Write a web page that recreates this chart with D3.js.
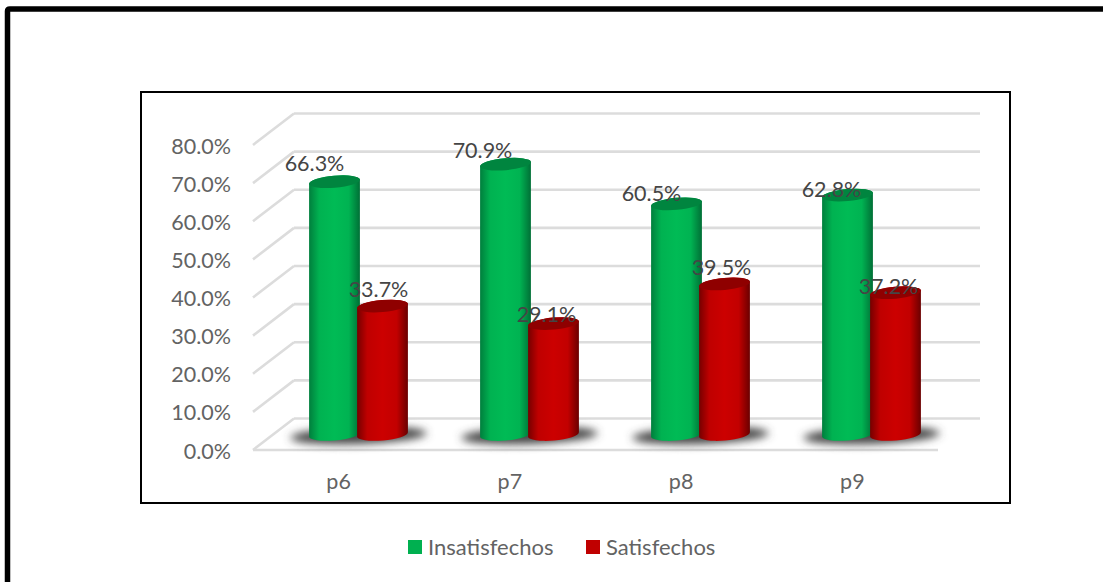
<!DOCTYPE html>
<html><head><meta charset="utf-8">
<script src="https://cdnjs.cloudflare.com/ajax/libs/d3/7.8.5/d3.min.js"></script>
<style>html,body{margin:0;padding:0;background:#fff}svg{display:block}text{font-family:Lato,"Open Sans",sans-serif}</style>
</head><body><div id="c"></div>
<script>
const categories = ["p6","p7","p8","p9"];
const seriesNames = ["Insatisfechos","Satisfechos"];
const insatisfechos = [66.3,70.9,60.5,62.8];
const satisfechos = [33.7,29.1,39.5,37.2];
const tickValues = [0,10,20,30,40,50,60,70,80];
const colors = ["#00b050","#c00000"];

// Hand-placed label offsets as in the original chart (layout only)
const labelNudge = [
  [[-20,-11],[-23,-6],[-25,-3],[-16,2]],
  [[-4,-9],[-7,-2],[-3,-9],[-7,1]]
];

const W=1103,H=582;
const svg=d3.select("#c").append("svg").attr("width",W).attr("height",H);
const defs=svg.append("defs");

function grad(id,edgeL,mid,edgeR){
  const g=defs.append("linearGradient").attr("id",id).attr("x1","0").attr("x2","1").attr("y1","0").attr("y2","0");
  [[0,edgeL],[.2,d3.interpolateRgb(edgeL,mid)(.85)],[.5,mid],[.78,d3.interpolateRgb(edgeR,mid)(.9)],[1,edgeR]]
    .forEach(s=>g.append("stop").attr("offset",s[0]).attr("stop-color",s[1]));
}
grad("g0","#007f3d","#00bb55","#006f36");
grad("g1","#760000","#cc0000","#6a0000");
defs.append("filter").attr("id","blur").attr("x","-30%").attr("y","-80%").attr("width","160%").attr("height","260%")
  .append("feGaussianBlur").attr("stdDeviation",4);

// frames
svg.append("path").attr("d",`M7.5 ${H} V11 Q7.5 9 10 9 H${W}`).attr("fill","none").attr("stroke","#000").attr("stroke-width",5.5);
svg.append("rect").attr("x",141).attr("y",92).attr("width",869).attr("height",411).attr("fill","#fff").attr("stroke","#000").attr("stroke-width",2);

// scales
const yFront=d3.scaleLinear().domain([0,80]).range([450,145]);
const yBack=d3.scaleLinear().domain([0,80]).range([418.5,113.5]);
const yBar=d3.scaleLinear().domain([0,80]).range([434.5,129.5]);
const xFront=d3.scaleBand().domain(categories).range([253,938]);
const xBar=d3.scaleBand().domain(categories).range([273,957]);
const sub=d3.scaleBand().domain([0,1]).range([-50,50]).padding(0);

// grid
const grid=svg.append("g").attr("stroke","#dcdcdc").attr("stroke-width",2.6).attr("fill","none");
grid.selectAll("line.b").data(tickValues).join("line")
  .attr("x1",294).attr("x2",980).attr("y1",d=>yBack(d)).attr("y2",d=>yBack(d));
grid.selectAll("line.d").data(tickValues).join("line")
  .attr("x1",253).attr("x2",294).attr("y1",d=>yFront(d)).attr("y2",d=>yBack(d));
grid.append("line").attr("x1",253).attr("x2",938).attr("y1",yFront(0)).attr("y2",yFront(0));

// y tick labels
svg.append("g").selectAll("text").data(tickValues).join("text")
  .attr("x",231).attr("y",d=>yFront(d)+8.5).attr("text-anchor","end")
  .attr("font-size",21.5).attr("fill","#636363").text(d=>d3.format(".1f")(d)+"%");
// x labels
svg.append("g").selectAll("text").data(categories).join("text")
  .attr("x",d=>xFront(d)+xFront.bandwidth()/2).attr("y",489).attr("text-anchor","middle")
  .attr("font-size",21.5).attr("fill","#636363").text(d=>d);

// shadows
svg.append("g").selectAll("ellipse").data(categories).join("ellipse")
  .attr("rx",68).attr("ry",8.5)
  .attr("transform",d=>`translate(${xBar(d)+xBar.bandwidth()/2},435.5) rotate(-2)`)
  .attr("fill","#444").attr("filter","url(#blur)");

const rx=25.5,ry=6,rot=-5,t=rot*Math.PI/180;
const dx=rx*Math.cos(t),dy=rx*Math.sin(t);
const series=[insatisfechos,satisfechos];
series.forEach((vals,si)=>{
  const g=svg.append("g");
  const cx=(c)=>xBar(c)+xBar.bandwidth()/2+sub(si)+sub.bandwidth()/2-(si?1:-1)*1;
  const recs=categories.map((c,i)=>({c,v:vals[i],i}));
  g.selectAll("path.body").data(recs).join("path")
    .attr("fill",`url(#g${si})`)
    .attr("d",d=>{
      const x=cx(d.c),yt=yBar(d.v),yb=yBar(0);
      return `M${x-dx} ${yt-dy} L${x-dx} ${yb-dy} A${rx} ${ry} ${rot} 0 0 ${x+dx} ${yb+dy} L${x+dx} ${yt+dy} A${rx} ${ry} ${rot} 0 0 ${x-dx} ${yt-dy} Z`;
    });
  g.selectAll("ellipse").data(recs).join("ellipse")
    .attr("rx",rx).attr("ry",ry)
    .attr("transform",d=>`translate(${cx(d.c)},${yBar(d.v)}) rotate(${rot})`)
    .attr("fill",si?"#8f0000":"#00853f");
});
// data labels on top
series.forEach((vals,si)=>{
  svg.append("g").selectAll("text").data(vals).join("text")
    .attr("x",(d,i)=>xBar(categories[i])+xBar.bandwidth()/2+sub(si)+sub.bandwidth()/2-(si?1:-1)+labelNudge[si][i][0])
    .attr("y",(d,i)=>yBar(d)+labelNudge[si][i][1])
    .attr("text-anchor","middle").attr("font-size",21.5).attr("fill","#454545")
    .text(d=>d.toFixed(1)+"%");
});
// legend
const legX=d3.scaleOrdinal().domain(seriesNames).range([408,586]);
const leg=svg.append("g").selectAll("g").data(seriesNames).join("g").attr("transform",d=>`translate(${legX(d)},540)`);
leg.append("rect").attr("width",14).attr("height",14).attr("fill",(d,i)=>colors[i]);
leg.append("text").attr("x",20).attr("y",14.5).attr("font-size",22).attr("fill","#636363").text(d=>d);
</script></body></html>
